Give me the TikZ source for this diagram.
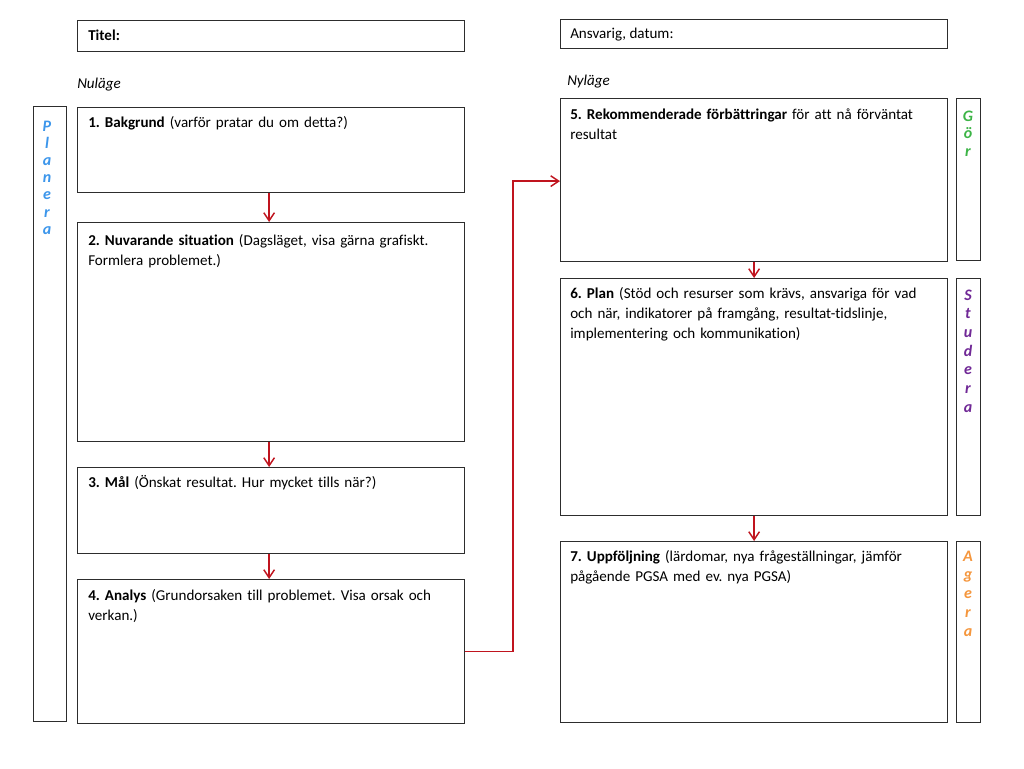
\documentclass[tikz,border=0pt]{standalone}
\usepackage{fontspec}
\setmainfont{Carlito}[Ligatures=NoCommon]
\usetikzlibrary{arrows.meta}
\frenchspacing
\definecolor{bord}{RGB}{45,45,45}
\definecolor{arrred}{RGB}{192,20,30}
\definecolor{plblue}{RGB}{60,150,235}
\definecolor{gorgreen}{RGB}{60,180,70}
\definecolor{stpurple}{RGB}{112,40,150}
\definecolor{agorange}{RGB}{245,150,60}
\begin{document}
\begin{tikzpicture}[x=0.75pt,y=-0.75pt,
  box/.style={draw=bord,line width=0.9pt,anchor=north west,inner sep=0pt,minimum width=290.25pt},
  bar/.style={draw=bord,line width=0.9pt,anchor=north west,inner sep=0pt},
  txt/.style={anchor=base west,inner sep=0pt,font=\fontsize{11.3pt}{15pt}\selectfont\frenchspacing,align=left,text width=285pt},
  lbl/.style={anchor=base west,inner sep=0pt,font=\fontsize{11.3pt}{15pt}\selectfont},
  letter/.style={anchor=base,inner sep=0pt,font=\fontsize{12pt}{13pt}\selectfont\bfseries\itshape},
  arr/.style={draw=arrred,line width=1.1pt,-{Straight Barb[length=6pt,width=8pt]}}]
\useasboundingbox (0,0) rectangle (1024,768);
\fill[white] (0,0) rectangle (1024,768);
% header boxes
\node[box,minimum height=23.25pt] (titel) at (77,20) {};
\node[lbl] (titelt) at (88,40) {\textbf{Titel:}};
\node[box,minimum height=21.75pt] (ansv) at (560,19) {};
\node[lbl] (ansvt) at (570,38) {Ansvarig, datum:};
\node[lbl,font=\fontsize{11.3pt}{15pt}\selectfont\itshape] (nul) at (77,88) {Nuläge};
\node[lbl,font=\fontsize{11.3pt}{15pt}\selectfont\itshape] (nyl) at (567,85) {Nyläge};
% side bars
\node[bar,minimum width=24.75pt,minimum height=461.25pt] (planera) at (33,106) {};
\node[bar,minimum width=18pt,minimum height=121.5pt] (gor) at (956,98) {};
\node[bar,minimum width=18pt,minimum height=177.75pt] (studera) at (956,278) {};
\node[bar,minimum width=18pt,minimum height=135.75pt] (agera) at (956,541) {};
\foreach \l [count=\i] in {P,l,a,n,e,r,a}
  \node[letter,text=plblue] (pl\i) at (47,{131+17.2*(\i-1)}) {\l};
\foreach \l [count=\i] in {G,ö,r}
  \node[letter,text=gorgreen] (gr\i) at (968,{121+17.5*(\i-1)}) {\l};
\foreach \l [count=\i] in {S,t,u,d,e,r,a}
  \node[letter,text=stpurple] (st\i) at (968,{300+18.7*(\i-1)}) {\l};
\foreach \l [count=\i] in {A,g,e,r,a}
  \node[letter,text=agorange] (ag\i) at (968,{561+18.9*(\i-1)}) {\l};
% left boxes
\node[box,minimum height=63.75pt] (b1) at (77,107) {};
\node[txt] (t1) at (88,127) {\textbf{1. Bakgrund} (varför pratar du om detta?)};
\node[box,minimum height=164.25pt] (b2) at (77,222) {};
\node[txt] (t2) at (88,245) {\textbf{2. Nuvarande situation} (Dagsläget, visa gärna grafiskt.\\Formlera problemet.)};
\node[box,minimum height=64.5pt] (b3) at (77,467) {};
\node[txt] (t3) at (88,487) {\textbf{3. Mål} (Önskat resultat. Hur mycket tills när?)};
\node[box,minimum height=108pt] (b4) at (77,579) {};
\node[txt] (t4) at (88,600) {\textbf{4. Analys} (Grundorsaken till problemet. Visa orsak och\\verkan.)};
% right boxes
\node[box,minimum height=122.25pt] (b5) at (560,98) {};
\node[txt] (t5) at (570,119) {\textbf{5. Rekommenderade förbättringar} för att nå förväntat\\resultat};
\node[box,minimum height=177.75pt] (b6) at (560,278) {};
\node[txt] (t6) at (570,298) {\textbf{6. Plan} (Stöd och resurser som krävs, ansvariga för vad\\och när, indikatorer på framgång, resultat-tidslinje,\\implementering och kommunikation)};
\node[box,minimum height=135.75pt] (b7) at (560,541) {};
\node[txt] (t7) at (570,561) {\textbf{7. Uppföljning} (lärdomar, nya frågeställningar, jämför\\pågående PGSA med ev. nya PGSA)};
% arrows
\draw[arr] ([xshift=-1.5pt]b1.south) -- ([xshift=-1.5pt]b2.north);
\draw[arr] ([xshift=-1.5pt]b2.south) -- ([xshift=-1.5pt]b3.north);
\draw[arr] ([xshift=-1.5pt]b3.south) -- ([xshift=-1.5pt]b4.north);
\draw[arr] (b4.east) -- ++(48,0) |- ([yshift=-0.75pt]b5.west);
\draw[arr] (b5.south) -- (b6.north);
\draw[arr] (b6.south) -- (b7.north);
\end{tikzpicture}
\end{document}
